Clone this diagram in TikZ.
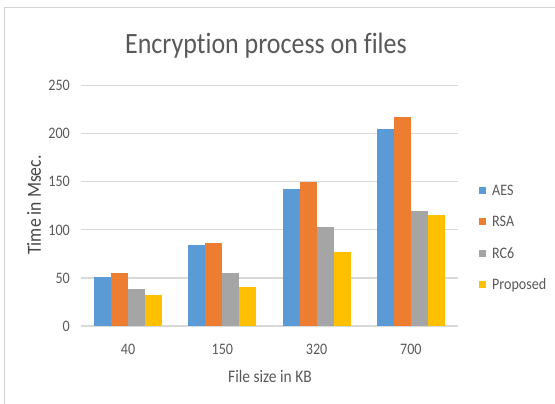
\documentclass[tikz,border=0pt]{standalone}
\usepackage{fontspec}
\setmainfont{Carlito}[Ligatures=NoCommon, FakeStretch=0.88]
\definecolor{aescol}{HTML}{5B9BD5}
\definecolor{rsacol}{HTML}{ED7D31}
\definecolor{rccol}{HTML}{A5A5A5}
\definecolor{propcol}{HTML}{FFC000}
\definecolor{txtcol}{HTML}{595959}
\definecolor{gridcol}{HTML}{D9D9D9}
\definecolor{framecol}{HTML}{D4D4D4}
\tikzset{
  ticklab/.style={text=txtcol, font=\fontsize{16}{18}\selectfont, inner sep=0pt},
  catlab/.style={text=txtcol, font=\fontsize{16}{18}\selectfont, inner sep=0pt},
  titlelab/.style={text=txtcol, font=\fontsize{29.5}{33}\selectfont, inner sep=0pt},
  axislab/.style={text=txtcol, font=\fontsize{17.6}{20}\selectfont, inner sep=0pt},
  leglab/.style={text=txtcol, font=\fontsize{16}{18}\selectfont, inner sep=0pt, anchor=west},
  gridline/.style={draw=gridcol, line width=1.2pt},
  framebox/.style={draw=framecol, line width=1.5pt},
}
\begin{document}
\begin{tikzpicture}[x=1pt,y=-1pt]
  \useasboundingbox (0,0) rectangle (555,404);
  % chart frame (top and left edges visible)
  \draw[framebox] (4.5,404) -- (4.5,7.5) -- (555,7.5);
  % title
  \node[titlelab] (title) at (266,46) {Encryption process on files};
  % value grid and axis
  \def\yzero{326}
  \def\yscl{0.9612}
  \foreach \v in {0,50,...,250} {
    \draw[gridline] (81,{\yzero-\v*\yscl}) -- (458,{\yzero-\v*\yscl});
    \node[ticklab, anchor=east] (tick\v) at (70,{\yzero-\v*\yscl}) {\v};
  }
  % bars: category index / AES / RSA / RC6 / Proposed
  \foreach \i/\ca/\cb/\cc/\cd in {0/51/55/38/32, 1/84/86/55/41, 2/142.5/150/103/77.5, 3/205/217/120/115} {
    \pgfmathsetmacro{\xs}{81+94.25*(\i+0.5)-34}
    \fill[aescol]  (\xs,\yzero) rectangle ({\xs+17},{\yzero-\ca*\yscl});
    \fill[rsacol]  ({\xs+17},\yzero) rectangle ({\xs+34},{\yzero-\cb*\yscl});
    \fill[rccol]   ({\xs+34},\yzero) rectangle ({\xs+51},{\yzero-\cc*\yscl});
    \fill[propcol] ({\xs+51},\yzero) rectangle ({\xs+68},{\yzero-\cd*\yscl});
  }
  % category labels
  \foreach \i/\lab in {0/40, 1/150, 2/320, 3/700} {
    \node[catlab] (cat\i) at ({81+94.25*(\i+0.5)},349) {\lab};
  }
  % axis titles
  \node[axislab] (xtitle) at (270,376) {File size in KB};
  \node[axislab, font=\fontsize{20}{22}\selectfont, rotate=90, text=txtcol!80!black] (ytitle) at (34,205) {Time in Msec.};
  % legend
  \foreach \j/\col/\lab in {0/aescol/AES, 1/rsacol/RSA, 2/rccol/RC6, 3/propcol/Proposed} {
    \fill[\col] (479,{190+31.6*\j-3.5}) rectangle (486,{190+31.6*\j+3.5});
    \node[leglab] (leg\j) at (492,{190+31.6*\j}) {\lab};
  }
\end{tikzpicture}
\end{document}
